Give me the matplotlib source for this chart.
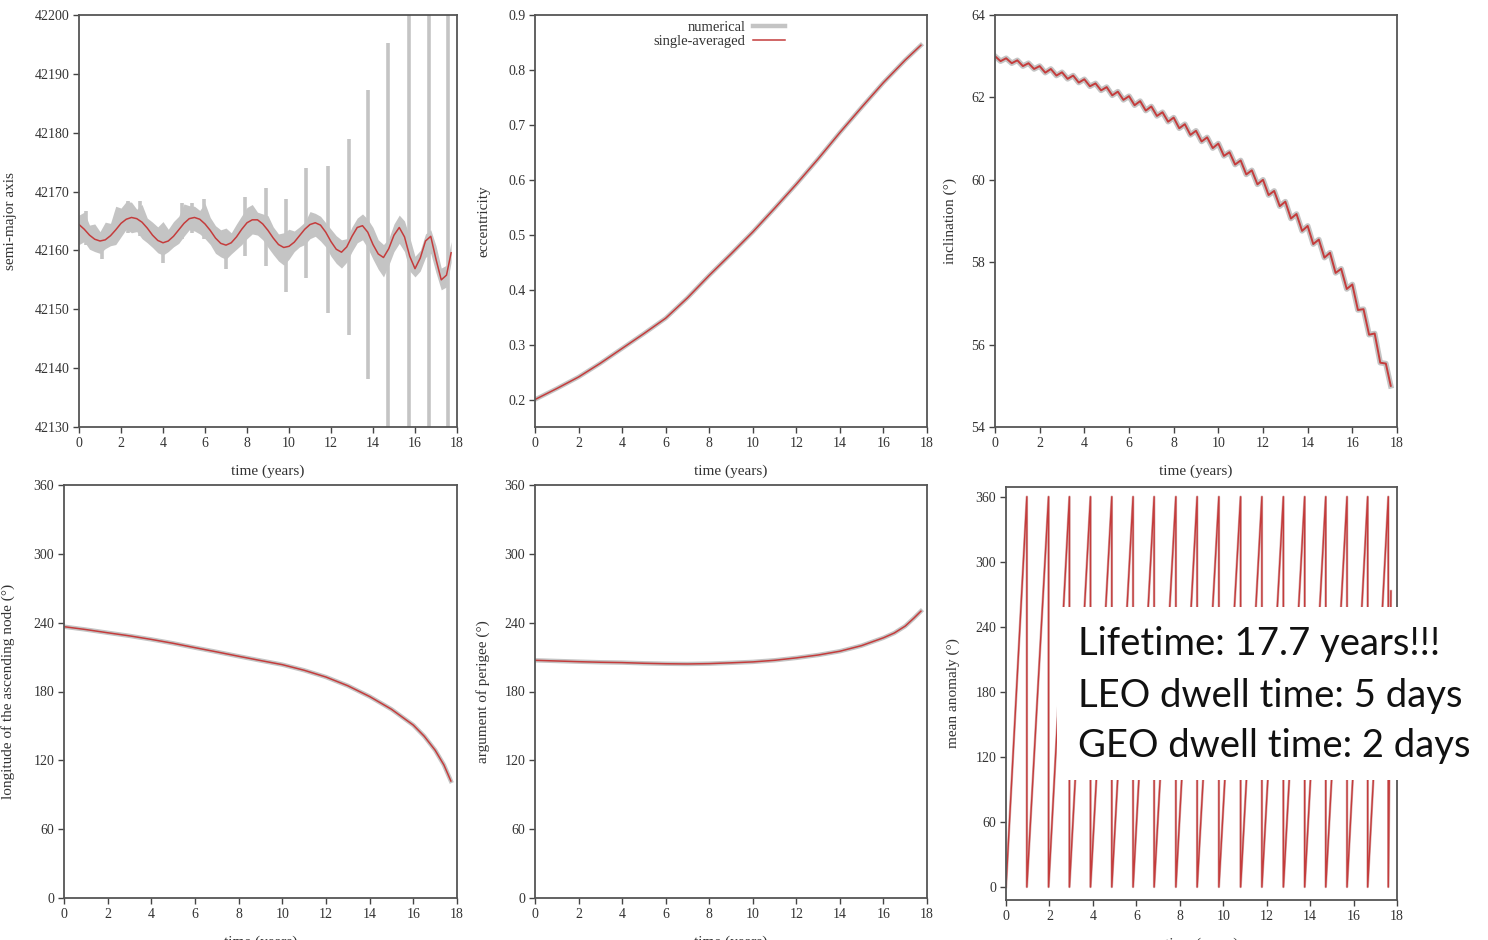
import matplotlib
matplotlib.use("Agg")
import matplotlib.pyplot as plt
from matplotlib.patches import Rectangle

# quarter-year sample times (years)
t_q = [0, 0.25, 0.5, 0.75, 1, 1.25, 1.5, 1.75, 2, 2.25, 2.5, 2.75, 3, 3.25, 3.5, 3.75,
       4, 4.25, 4.5, 4.75, 5, 5.25, 5.5, 5.75, 6, 6.25, 6.5, 6.75, 7, 7.25, 7.5, 7.75,
       8, 8.25, 8.5, 8.75, 9, 9.25, 9.5, 9.75, 10, 10.25, 10.5, 10.75, 11, 11.25, 11.5, 11.75,
       12, 12.25, 12.5, 12.75, 13, 13.25, 13.5, 13.75, 14, 14.25, 14.5, 14.75, 15, 15.25, 15.5, 15.75,
       16, 16.25, 16.5, 16.75, 17, 17.25, 17.5, 17.72]

# semi-major axis (km): single-averaged and the band of the numerical solution
sma_avg = [42164.4, 42163.6, 42162.6, 42161.9, 42161.6, 42161.8, 42162.5, 42163.5, 42164.6, 42165.3,
           42165.6, 42165.4, 42164.8, 42163.8, 42162.6, 42161.7, 42161.3, 42161.6, 42162.4, 42163.5,
           42164.6, 42165.4, 42165.6, 42165.3, 42164.5, 42163.4, 42162.1, 42161.2, 42160.9, 42161.3,
           42162.3, 42163.6, 42164.7, 42165.2, 42165.2, 42164.5, 42163.4, 42162.1, 42161.0, 42160.5,
           42160.7, 42161.4, 42162.5, 42163.6, 42164.4, 42164.7, 42164.3, 42163.1, 42161.5, 42160.2,
           42159.7, 42160.6, 42162.4, 42163.9, 42164.2, 42163.1, 42161.0, 42159.4, 42158.8, 42160.3,
           42162.6, 42163.9, 42162.3, 42159.0, 42156.9, 42158.7, 42161.6, 42162.4, 42158.5, 42155.0,
           42155.8, 42159.6]
sma_num_hi = [42166.0, 42166.5, 42164.3, 42164.5, 42163.2, 42164.8, 42164.6, 42167.5, 42167.2, 42168.3,
              42168.2, 42167.0, 42167.8, 42165.5, 42164.8, 42164.0, 42164.9, 42163.6, 42164.9, 42165.8,
              42167.9, 42167.6, 42167.5, 42166.8, 42168.0, 42165.6, 42164.2, 42163.5, 42163.8, 42163.0,
              42164.5, 42165.9, 42167.3, 42167.8, 42166.5, 42166.2, 42165.9, 42164.0, 42162.8, 42163.0,
              42163.6, 42163.3, 42164.0, 42164.8, 42166.6, 42166.3, 42165.8, 42164.7, 42163.6, 42162.5,
              42161.8, 42162.0, 42164.0, 42165.5, 42166.2, 42165.3, 42163.9, 42161.8, 42161.0, 42162.0,
              42164.5, 42166.0, 42165.0, 42162.2, 42159.0, 42160.0, 42162.8, 42163.5, 42160.8, 42157.0,
              42157.5, 42161.5]
sma_num_lo = [42161.0, 42161.5, 42160.2, 42159.8, 42159.5, 42160.3, 42160.8, 42161.0, 42162.3, 42163.6,
              42163.0, 42163.2, 42162.0, 42161.3, 42160.5, 42159.6, 42159.2, 42159.8, 42160.6, 42161.2,
              42162.4, 42163.5, 42163.3, 42162.8, 42162.0, 42161.0, 42159.5, 42158.9, 42158.5, 42159.4,
              42160.2, 42161.0, 42162.0, 42162.8, 42162.6, 42161.8, 42160.5, 42159.3, 42158.2, 42157.5,
              42158.5, 42159.8, 42160.6, 42161.0, 42162.0, 42162.4, 42161.6, 42160.6, 42159.0, 42157.8,
              42157.0, 42158.0, 42159.8, 42161.3, 42161.8, 42160.4, 42158.5, 42156.8, 42155.5, 42157.5,
              42159.8, 42161.2, 42159.8, 42156.5, 42155.5, 42156.5, 42158.8, 42159.5, 42156.2, 42153.3,
              42153.8, 42158.0]
# short jumps of the numerical solution: time, low end, high end
spike_t = [0.35, 1.08, 2.35, 2.9, 4.0, 4.9, 5.37, 5.93, 7.0, 7.89, 8.92, 9.87,
           10.83, 11.86, 12.85, 13.77, 14.72, 15.71, 16.69, 17.58]
spike_lo = [42161.0, 42158.5, 42163.0, 42162.5, 42157.9, 42162.0, 42163.0, 42162.0, 42156.9, 42159.0,
            42157.4, 42153.0, 42155.4, 42149.4, 42145.7, 42138.1, 42120.0, 42120.0, 42120.0, 42120.0]
spike_hi = [42166.7, 42162.0, 42168.4, 42168.4, 42162.0, 42168.0, 42168.0, 42168.7, 42162.0, 42169.0,
            42170.6, 42168.7, 42174.0, 42174.3, 42178.9, 42187.3, 42195.3, 42210.0, 42210.0, 42210.0]

# eccentricity
t_year = [0, 1, 2, 3, 4, 5, 6, 7, 8, 9, 10, 11, 12, 13, 14, 15, 16, 17, 17.72]
ecc = [0.200, 0.220, 0.241, 0.266, 0.293, 0.320, 0.348, 0.385, 0.426, 0.465,
       0.505, 0.548, 0.592, 0.638, 0.686, 0.732, 0.777, 0.818, 0.845]

# inclination (deg), quarter-year samples
inc = [63.00, 62.88, 62.95, 62.83, 62.90, 62.76, 62.83, 62.69, 62.76, 62.60, 62.69, 62.53,
       62.61, 62.45, 62.53, 62.36, 62.44, 62.27, 62.34, 62.17, 62.25, 62.05, 62.14, 61.94,
       62.03, 61.81, 61.91, 61.68, 61.78, 61.55, 61.64, 61.41, 61.51, 61.25, 61.35, 61.09,
       61.19, 60.93, 61.03, 60.77, 60.88, 60.58, 60.67, 60.37, 60.47, 60.13, 60.23, 59.89,
       60.00, 59.63, 59.73, 59.36, 59.47, 59.06, 59.17, 58.76, 58.88, 58.44, 58.55, 58.11,
       58.23, 57.74, 57.84, 57.35, 57.46, 56.84, 56.86, 56.24, 56.27, 55.56, 55.54, 55.00]

# node and perigee (deg)
t_ang = [0, 1, 2, 3, 4, 5, 6, 7, 8, 9, 10, 11, 12, 13, 14, 15, 16, 16.5, 17, 17.4, 17.72]
raan = [236.5, 234.0, 231.2, 228.5, 225.4, 222.0, 218.2, 214.5, 210.7, 207.0, 203.4,
        198.5, 192.6, 185.0, 175.6, 164.5, 150.7, 141.0, 128.8, 116.0, 102.0]
argp = [207.2, 206.6, 206.0, 205.5, 205.2, 204.6, 204.2, 204.0, 204.3, 205.0, 205.8,
        207.2, 209.3, 211.8, 215.1, 220.0, 226.8, 231.0, 237.0, 244.0, 250.0]

# mean anomaly: times where it wraps from 360 back to 0, and final value
ma_wrap = [0.96, 1.96, 2.92, 3.89, 4.87, 5.85, 6.82, 7.82, 8.8, 9.8, 10.8, 11.78,
           12.77, 13.75, 14.72, 15.7, 16.65, 17.6]
ma_end_t, ma_end_v = 17.72, 273.0

ma_t, ma_v = [0.0], [0.0]
for tw in ma_wrap:
    ma_t += [tw, tw]
    ma_v += [360.0, 0.0]
ma_t.append(ma_end_t)
ma_v.append(ma_end_v)

RED = "#c43c3c"
GRAY = "#c4c4c4"
TXT = "#333333"

plt.rcParams["font.family"] = ["Liberation Serif", "DejaVu Serif"]
plt.rcParams["text.color"] = TXT
plt.rcParams["axes.labelcolor"] = TXT
plt.rcParams["xtick.color"] = "#444444"
plt.rcParams["ytick.color"] = "#444444"
plt.rcParams["xtick.labelcolor"] = TXT
plt.rcParams["ytick.labelcolor"] = TXT

fig = plt.figure(figsize=(14.88, 9.4), dpi=100)
fig.patch.set_facecolor("white")

W, H = 1488.0, 940.0


def make_ax(x0, x1, y0, y1):
    return fig.add_axes([x0 / W, 1 - y1 / H, (x1 - x0) / W, (y1 - y0) / H])


ax1 = make_ax(79, 457, 15, 427)
ax2 = make_ax(535, 927, 15, 427)
ax3 = make_ax(995, 1397, 15, 427)
ax4 = make_ax(64, 457, 485, 898)
ax5 = make_ax(535, 927, 485, 898)
ax6 = make_ax(1006, 1397, 487, 900)

# semi-major axis
ax1.fill_between(t_q, sma_num_lo, sma_num_hi, color=GRAY, lw=0)
ax1.vlines(spike_t, spike_lo, spike_hi, color=GRAY, lw=2.6)
ax1.plot(t_q, sma_avg, color=RED, lw=1.1)
ax1.set_ylim(42130, 42200)
ax1.set_yticks(range(42130, 42201, 10))
ax1.set_yticklabels([str(v) for v in range(42130, 42201, 10)])
ax1.set_ylabel("semi-major axis")

# eccentricity
ax2.plot(t_year, ecc, color=GRAY, lw=3.2, label="numerical")
ax2.plot(t_year, ecc, color=RED, lw=1.1, label="single-averaged")
ax2.set_ylim(0.15, 0.9)
ax2.set_yticks([0.2, 0.3, 0.4, 0.5, 0.6, 0.7, 0.8, 0.9])
ax2.set_yticklabels(["0.2", "0.3", "0.4", "0.5", "0.6", "0.7", "0.8", "0.9"])
ax2.set_ylabel("eccentricity")
ax2.legend(loc="upper center", bbox_to_anchor=(0.47, 1.01), frameon=False,
           markerfirst=False, fontsize=10.5, handlelength=2.2, handletextpad=0.5,
           labelspacing=0.05, borderpad=0.2)

# inclination
ax3.plot(t_q, inc, color=GRAY, lw=4)
ax3.plot(t_q, inc, color=RED, lw=1.4)
ax3.set_ylim(54, 64)
ax3.set_yticks(range(54, 65, 2))
ax3.set_ylabel("inclination (°)")

# node
ax4.plot(t_ang, raan, color=GRAY, lw=3.2)
ax4.plot(t_ang, raan, color=RED, lw=1.1)
ax4.set_ylim(0, 360)
ax4.set_yticks(range(0, 361, 60))
ax4.set_ylabel("longitude of the ascending node (°)")

# perigee
ax5.plot(t_ang, argp, color=GRAY, lw=3.2)
ax5.plot(t_ang, argp, color=RED, lw=1.1)
ax5.set_ylim(0, 360)
ax5.set_yticks(range(0, 361, 60))
ax5.set_ylabel("argument of perigee (°)")

# mean anomaly
ax6.plot(ma_t, ma_v, color="#d9b0b0", lw=1.8)
ax6.plot(ma_t, ma_v, color=RED, lw=1.0)
ax6.set_ylim(-12, 369)
ax6.set_yticks(range(0, 361, 60))
ax6.set_ylabel("mean anomaly (°)")

label_x = {ax1: -0.165, ax2: -0.115, ax3: -0.095, ax4: -0.125, ax5: -0.115, ax6: -0.118}
for ax in [ax1, ax2, ax3, ax4, ax5, ax6]:
    ax.set_xlim(0, 18)
    ax.set_xticks(range(0, 19, 2))
    ax.set_xlabel("time (years)", fontsize=11)
    ax.xaxis.set_label_coords(0.5, -0.09)
    ax.yaxis.label.set_fontsize(11)
    ax.yaxis.set_label_coords(label_x[ax], 0.5)
    ax.tick_params(direction="out", length=4, width=1, labelsize=10, pad=3)
    for sp in ax.spines.values():
        sp.set_color("#555555")
        sp.set_linewidth(1.3)

# annotation box over the mean anomaly panel
fig.add_artist(Rectangle((1057 / W, 1 - 780 / H), (W - 1057) / W, 173 / H,
                         transform=fig.transFigure, facecolor="white",
                         edgecolor="none", zorder=10))
notes = ["Lifetime: 17.7 years!!!", "LEO dwell time: 5 days", "GEO dwell time: 2 days"]
baselines = [655, 707, 757]
for line, yb in zip(notes, baselines):
    fig.text(1078 / W, 1 - yb / H, line, family=["Lato", "DejaVu Sans"], fontsize=27.5,
             color="#111111", va="baseline", ha="left", zorder=11)

fig.savefig("out.png", dpi=100, facecolor="white")
